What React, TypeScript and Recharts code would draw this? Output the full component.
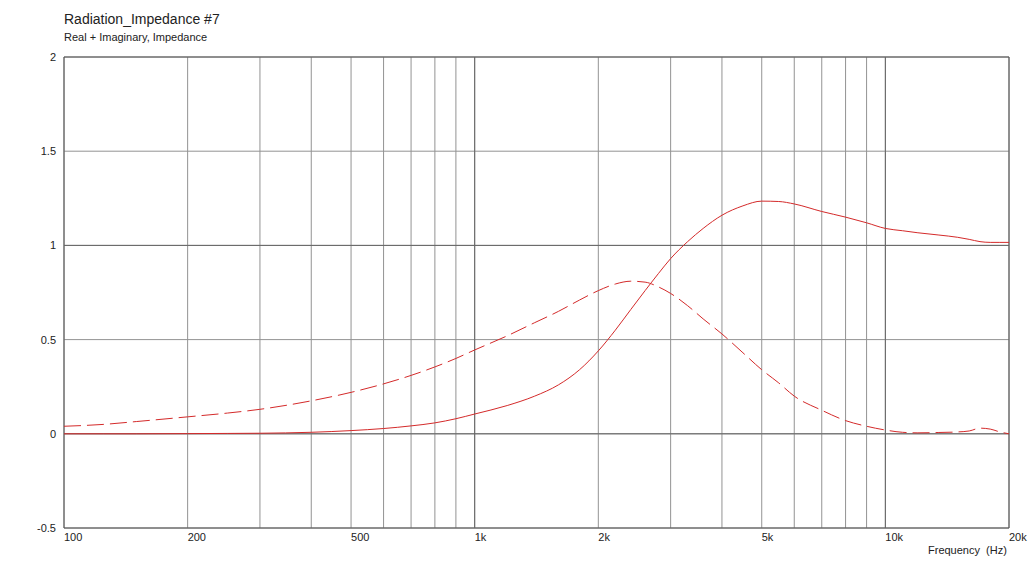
import { CartesianGrid, Line, LineChart, ReferenceArea, ReferenceLine, XAxis, YAxis } from 'recharts'

const freqs = [
  100, 125, 150, 200, 250, 300, 400, 500, 600, 700, 800, 900, 1000, 1200, 1400, 1600, 1800, 2000, 2200,
  2400, 2600, 2800, 3000, 3300, 3600, 4000, 4500, 5000, 5500, 6000, 7000, 8000, 9000, 10000, 11000,
  12000, 13500, 15000, 16000, 17000, 18000, 19000, 20000,
]

const realPart = [
  0, 0, 0, 0.001, 0.002, 0.003, 0.008, 0.017, 0.028, 0.042, 0.058, 0.08, 0.105, 0.15, 0.2, 0.26, 0.34,
  0.44, 0.55, 0.66, 0.76, 0.85, 0.93, 1.02, 1.09, 1.16, 1.21, 1.235, 1.233, 1.22, 1.18, 1.15, 1.12, 1.09,
  1.078, 1.067, 1.055, 1.043, 1.032, 1.02, 1.016, 1.016, 1.016,
]

const imagPart = [
  0.04, 0.05, 0.065, 0.09, 0.11, 0.13, 0.175, 0.22, 0.265, 0.31, 0.355, 0.4, 0.445, 0.52, 0.59, 0.65,
  0.71, 0.76, 0.795, 0.81, 0.805, 0.78, 0.745, 0.68, 0.61, 0.53, 0.43, 0.34, 0.27, 0.2, 0.125, 0.07, 0.04,
  0.02, 0.008, 0.005, 0.007, 0.01, 0.015, 0.03, 0.025, 0.01, 0,
]

const gridFreqs = [
  100, 200, 300, 400, 500, 600, 700, 800, 900, 1000, 2000, 3000, 4000, 5000, 6000, 7000, 8000, 9000,
  10000, 20000,
]
const labelledFreqs: Record<number, string> = {
  100: '100', 200: '200', 500: '500', 1000: '1k', 2000: '2k', 5000: '5k', 10000: '10k', 20000: '20k',
}
const yTicks = [-0.5, 0, 0.5, 1, 1.5, 2]

const rows = freqs.map((f, i) => ({ f, re: realPart[i], im: imagPart[i] }))

const font = '"Liberation Sans", Arial, sans-serif'
const red = '#d42a2a'

const FreqTick = (props: any) => {
  const { x, y, payload } = props
  const label = labelledFreqs[payload.value]
  if (!label) return null
  return (
    <text x={x} y={y + 5} fontSize={11} fontFamily={font} fill="#222" textAnchor="start">
      {label}
    </text>
  )
}

const ValueTick = (props: any) => {
  const { x, y, payload } = props
  return (
    <text x={x} y={y + 4} fontSize={11} fontFamily={font} fill="#222" textAnchor="end">
      {payload.value}
    </text>
  )
}

export default function App() {
  return (
    <div style={{ position: 'fixed', left: 0, top: 0, width: 1032, height: 563, background: '#fff', fontFamily: font }}>
      <div style={{ position: 'absolute', left: 64, top: 11, fontSize: 14, color: '#222' }}>Radiation_Impedance #7</div>
      <div style={{ position: 'absolute', left: 64, top: 31, fontSize: 11, color: '#222' }}>Real + Imaginary, Impedance</div>
      <div style={{ position: 'absolute', left: 928, top: 544, fontSize: 11, color: '#222' }}>Frequency&nbsp;&nbsp;(Hz)</div>
      <LineChart width={1032} height={563} data={rows} margin={{ top: 57, right: 23, left: 0, bottom: 0 }}>
        <CartesianGrid stroke="#939393" strokeWidth={1} />
        <XAxis
          dataKey="f"
          type="number"
          scale="log"
          domain={[100, 20000]}
          ticks={gridFreqs}
          interval={0}
          tick={<FreqTick />}
          tickLine={false}
          axisLine={false}
          height={35}
          allowDataOverflow
        />
        <YAxis
          type="number"
          domain={[-0.5, 2]}
          ticks={yTicks}
          interval={0}
          tick={<ValueTick />}
          tickLine={false}
          axisLine={false}
          width={64}
        />
        <ReferenceLine x={1000} stroke="#666" />
        <ReferenceLine x={10000} stroke="#666" />
        <ReferenceLine y={0} stroke="#666" />
        <ReferenceLine y={1} stroke="#666" />
        <ReferenceArea x1={100} x2={20000} y1={-0.5} y2={2} stroke="#555" fill="none" fillOpacity={0} />
        <Line dataKey="im" stroke={red} strokeWidth={1} strokeDasharray="17 6" dot={false} isAnimationActive={false} type="monotone" />
        <Line dataKey="re" stroke={red} strokeWidth={1} dot={false} isAnimationActive={false} type="monotone" />
      </LineChart>
    </div>
  )
}
